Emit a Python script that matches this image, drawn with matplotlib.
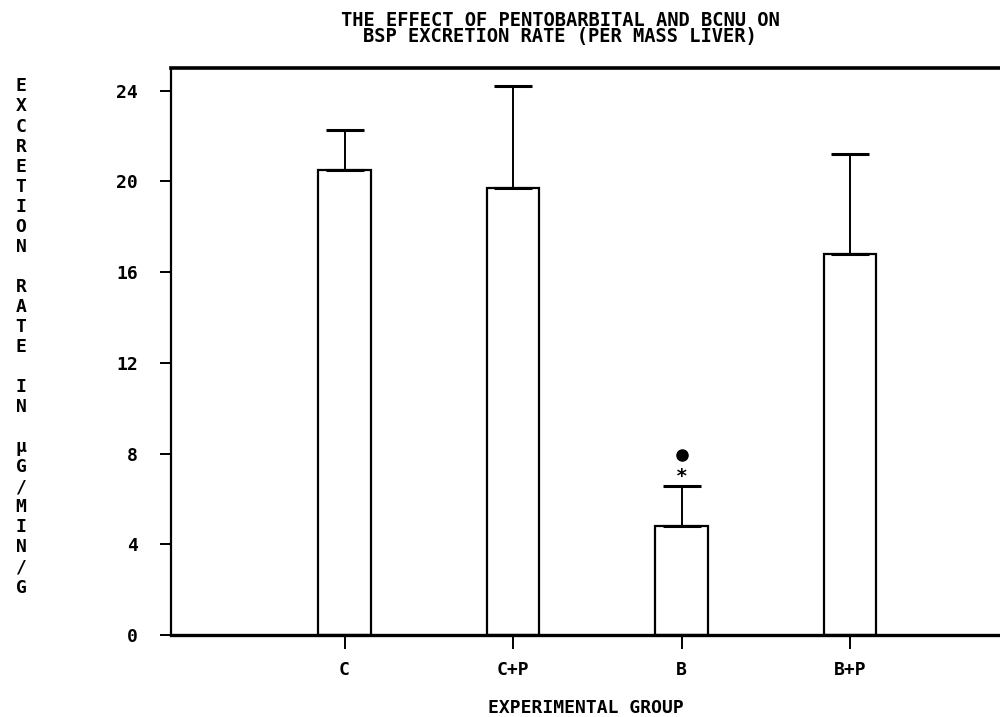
import matplotlib
matplotlib.use("Agg")
import matplotlib.pyplot as plt

# data
groups = ["C", "C+P", "B", "B+P"]
rates = [20.5, 19.7, 4.8, 16.8]
upper_err = [1.75, 4.5, 1.75, 4.4]
sig_marks = ["", "", "*", ""]
sig_dots = [False, False, True, False]
y_ticks = [0, 4, 8, 12, 16, 20, 24]

title = "THE EFFECT OF PENTOBARBITAL AND BCNU ON\nBSP EXCRETION RATE (PER MASS LIVER)"
ylabel = "EXCRETION RATE IN \u03bcG/MIN/G"
xlabel = "EXPERIMENTAL GROUP"

font = dict(family="DejaVu Sans Mono", fontweight="bold")

fig = plt.figure(figsize=(10, 7.17), dpi=100)
ax = fig.add_axes([0.171, 0.1144, 0.829, 0.7908])

pos = list(range(1, len(groups) + 1))
ax.bar(pos, rates, width=0.31, color="white", edgecolor="black",
       linewidth=1.6, zorder=2)
ax.errorbar(pos, rates, yerr=[[0] * len(rates), upper_err], fmt="none",
            ecolor="black", elinewidth=1.4, capsize=14, capthick=2.2, zorder=3)

# significance symbols over the error bars
for x, r, e, m, d in zip(pos, rates, upper_err, sig_marks, sig_dots):
    if m:
        ax.text(x, r + e + 0.45, m, ha="center", va="center", fontsize=14, **font)
    if d:
        ax.plot(x, r + e + 1.4, "o", color="black", markersize=8, zorder=3)

ax.set_xlim(-0.03, 4.89)
ax.set_ylim(0, 25)
ax.set_xticks(pos)
ax.set_xticklabels(groups, fontsize=13, **font)
ax.set_yticks(y_ticks)
ax.set_yticklabels([str(t) for t in y_ticks], fontsize=13, **font)

ax.tick_params(axis="y", direction="out", length=8, width=1.4, pad=16)
ax.tick_params(axis="x", direction="out", length=10, width=1.4, pad=9)

ax.spines["right"].set_visible(False)
ax.spines["top"].set_linewidth(2.6)
ax.spines["bottom"].set_linewidth(2.4)
ax.spines["left"].set_linewidth(1.6)

fig.text(0.56, 0.985, title, ha="center", va="top", fontsize=13.5,
         linespacing=0.82, **font)
ax.set_xlabel(xlabel, fontsize=13, labelpad=14, **font)

# stacked vertical label, one character per line
fig.text(0.021, 0.53, "\n".join(ylabel), ha="center", va="center",
         fontsize=13, linespacing=1.146, **font)

fig.savefig("out.png", dpi=100)
